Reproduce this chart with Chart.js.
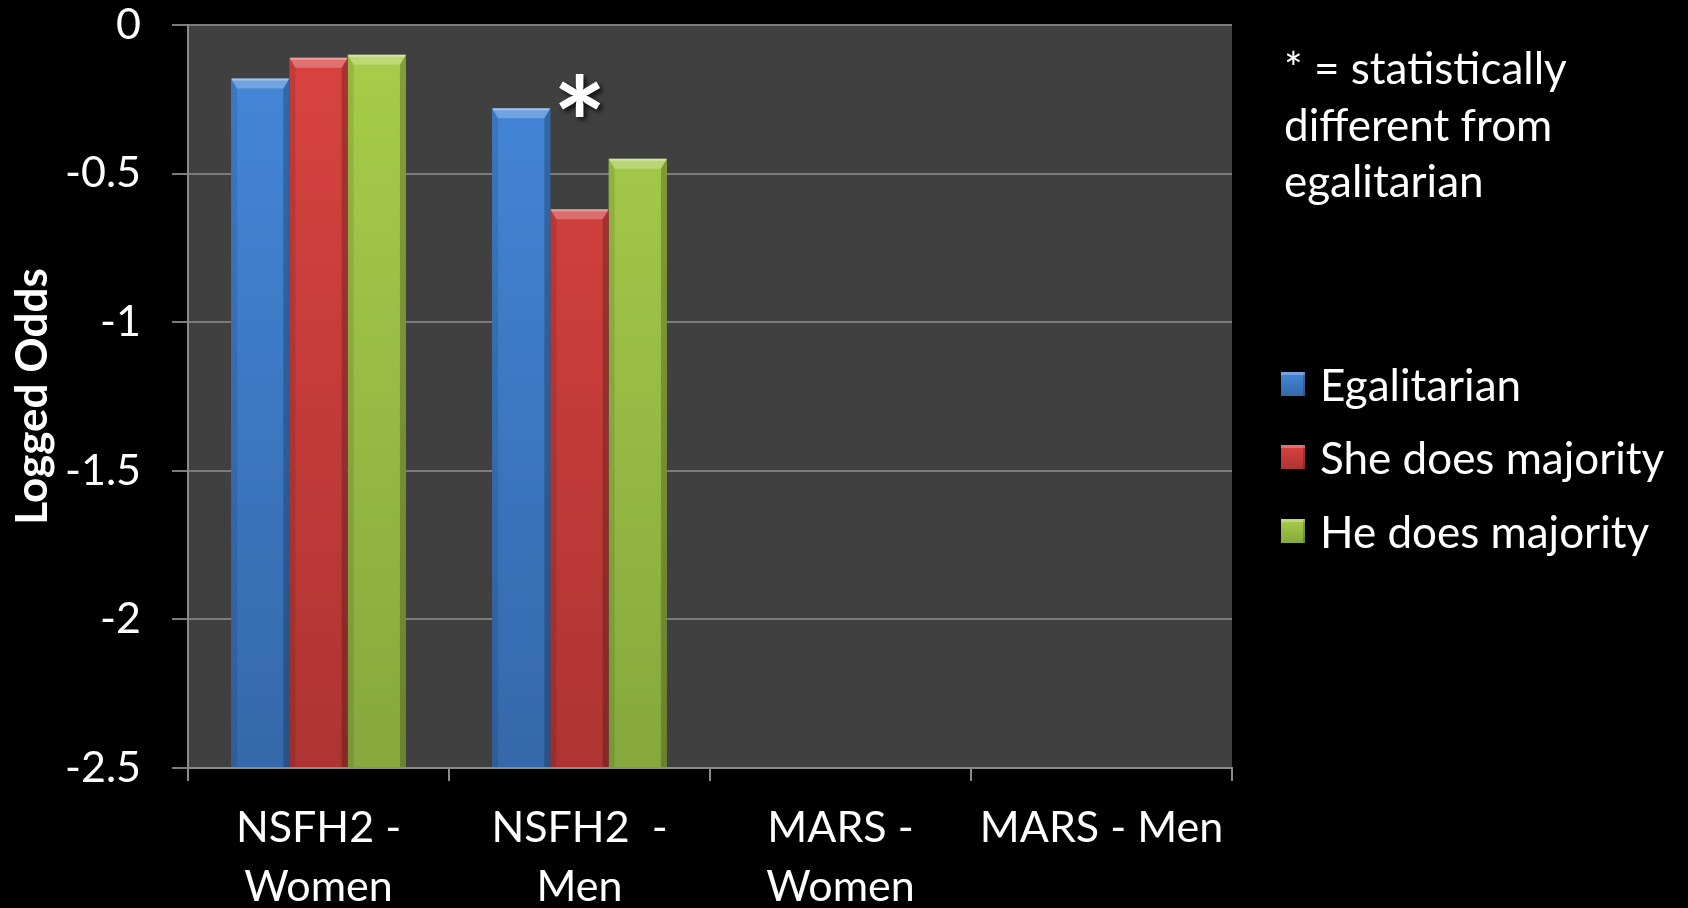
<!DOCTYPE html>
<html>
<head>
<meta charset="utf-8">
<script src="https://cdn.jsdelivr.net/npm/chart.js@4.4.1/dist/chart.umd.min.js"></script>
<style>
  html, body { margin: 0; padding: 0; background: #000; }
  #wrap { position: relative; width: 1688px; height: 908px; overflow: hidden;
          font-family: Lato, "Open Sans", sans-serif; color: #fff; }
  #chart { position: absolute; left: 0; top: 0; }
  #note { position: absolute; left: 1284px; top: 39px; font-size: 44px; line-height: 56.5px; white-space: nowrap; }
  #legend { position: absolute; left: 1281px; top: 347px; font-size: 44px; }
  .item { display: flex; align-items: center; height: 73.5px; white-space: nowrap; }
  .swatch { width: 24px; height: 24px; margin-right: 15px; box-sizing: border-box; flex: none; }
</style>
</head>
<body>
<div id="wrap">
  <canvas id="chart" width="1688" height="908"></canvas>
  <div id="note"></div>
  <div id="legend"></div>
</div>
<script>
// Categories (two-line axis labels)
const categories = [['NSFH2 -', 'Women'], ['NSFH2  -', 'Men'], ['MARS -', 'Women'], 'MARS - Men'];

// Logged odds per division-of-housework arrangement
const seriesNames = ['Egalitarian', 'She does majority', 'He does majority'];
const egalitarian     = [-0.18, -0.28, null, null];
const sheDoesMajority = [-0.11, -0.62, null, null];
const heDoesMajority  = [-0.10, -0.45, null, null];

// Value axis
const yMin = -2.5;
const yMax = 0;
const yStep = 0.5;

// Bars flagged as statistically different from egalitarian
const significant = [{ series: 1, category: 1 }];
const noteLines = ['* = statistically', 'different from', 'egalitarian'];

// Bar face colours: [light top, dark bottom]
const palette = [
  ['#4488da', '#3568aa'],
  ['#da4340', '#ad3432'],
  ['#a8ce4a', '#86a83d']
];

const FONT = 'Lato, "Open Sans", sans-serif';

function faceGradient(idx) {
  return (c) => {
    const chart = c.chart;
    const area = chart.chartArea;
    if (!area) return palette[idx][0];
    const g = chart.ctx.createLinearGradient(0, area.top, 0, area.bottom);
    g.addColorStop(0, palette[idx][0]);
    g.addColorStop(1, palette[idx][1]);
    return g;
  };
}

// dark plot background
const plotBackground = {
  id: 'plotBackground',
  beforeDraw(chart) {
    const { ctx, chartArea: a } = chart;
    ctx.save();
    ctx.fillStyle = '#404040';
    ctx.fillRect(a.left, a.top, a.right - a.left, a.bottom - a.top);
    ctx.restore();
  }
};

// bevelled look on every bar
const bevel = {
  id: 'bevel',
  afterDatasetsDraw(chart) {
    const ctx = chart.ctx;
    chart.data.datasets.forEach((ds, di) => {
      const meta = chart.getDatasetMeta(di);
      meta.data.forEach((bar, i) => {
        if (ds.data[i] == null) return;
        const p = bar.getProps(['x', 'y', 'width', 'base'], true);
        const L = p.x - p.width / 2, R = p.x + p.width / 2;
        const T = Math.min(p.y, p.base), B = Math.max(p.y, p.base);
        const b = 10, s = 6;
        ctx.save();
        // left facet
        ctx.fillStyle = 'rgba(0,0,0,0.10)';
        ctx.beginPath();
        ctx.moveTo(L, T); ctx.lineTo(L + s, T + b); ctx.lineTo(L + s, B); ctx.lineTo(L, B);
        ctx.closePath(); ctx.fill();
        // right facet
        ctx.fillStyle = 'rgba(0,0,0,0.22)';
        ctx.beginPath();
        ctx.moveTo(R, T); ctx.lineTo(R - s, T + b); ctx.lineTo(R - s, B); ctx.lineTo(R, B);
        ctx.closePath(); ctx.fill();
        // top facet
        ctx.fillStyle = 'rgba(255,255,255,0.25)';
        ctx.beginPath();
        ctx.moveTo(L, T); ctx.lineTo(R, T); ctx.lineTo(R - s, T + b); ctx.lineTo(L + s, T + b);
        ctx.closePath(); ctx.fill();
        ctx.fillStyle = 'rgba(255,255,255,0.35)';
        ctx.fillRect(L + 1, T, p.width - 2, 2);
        ctx.restore();
      });
    });
  }
};

// significance asterisks above flagged bars
const sigMarks = {
  id: 'sigMarks',
  afterDatasetsDraw(chart) {
    const ctx = chart.ctx;
    const yScale = chart.scales.y;
    significant.forEach(m => {
      const bar = chart.getDatasetMeta(m.series).data[m.category];
      let top = Infinity;
      chart.data.datasets.forEach(ds => {
        const v = ds.data[m.category];
        if (v != null) top = Math.min(top, yScale.getPixelForValue(v));
      });
      ctx.save();
      ctx.font = 'bold 100px ' + FONT;
      const probe = ctx.measureText('*');
      const h100 = probe.actualBoundingBoxAscent + probe.actualBoundingBoxDescent;
      const size = 100 * 43 / h100;
      ctx.font = 'bold ' + size + 'px ' + FONT;
      const mt = ctx.measureText('*');
      const cy = top - 13;
      ctx.textAlign = 'center';
      ctx.textBaseline = 'alphabetic';
      const baseY = cy + (mt.actualBoundingBoxAscent - mt.actualBoundingBoxDescent) / 2;
      ctx.shadowColor = 'rgba(0,0,0,0.75)';
      ctx.shadowBlur = 5;
      ctx.shadowOffsetX = 3;
      ctx.shadowOffsetY = 3;
      ctx.fillStyle = '#ffffff';
      ctx.fillText('*', bar.x, baseY);
      ctx.restore();
    });
  }
};

Chart.defaults.font.family = FONT;
Chart.defaults.color = '#ffffff';

const seriesData = [egalitarian, sheDoesMajority, heDoesMajority];

new Chart(document.getElementById('chart'), {
  type: 'bar',
  data: {
    labels: categories,
    datasets: seriesData.map((d, i) => ({
      label: seriesNames[i],
      data: d,
      base: yMin,
      backgroundColor: faceGradient(i),
      borderWidth: 0,
      categoryPercentage: 0.67,
      barPercentage: 1.0
    }))
  },
  options: {
    responsive: false,
    devicePixelRatio: 1,
    animation: false,
    layout: { padding: { left: 0, right: 456, top: 25, bottom: 0 } },
    plugins: { legend: { display: false }, tooltip: { enabled: false } },
    scales: {
      x: {
        offset: true,
        grid: { offset: true, drawOnChartArea: false, drawTicks: true, tickLength: 13,
                color: '#8a8a8a', lineWidth: 2 },
        border: { display: true, color: '#8a8a8a', width: 2 },
        ticks: { font: { size: 43, lineHeight: 1.37 }, color: '#fff', padding: 18, maxRotation: 0, autoSkip: false },
        afterFit(scale) { scale.height = 140; scale.paddingLeft = 0; scale.paddingRight = 0; }
      },
      y: {
        min: yMin,
        max: yMax,
        ticks: { stepSize: yStep, font: { size: 43 }, color: '#fff', padding: 31,
                 callback: (v) => String(Math.round(v * 10) / 10) },
        grid: { color: '#7c7c7c', lineWidth: 2, drawTicks: true, tickLength: 16 },
        border: { display: true, color: '#8a8a8a', width: 2 },
        title: { display: true, text: 'Logged Odds', color: '#fff',
                 font: { size: 44, weight: 'bold', lineHeight: 1.2 }, padding: { top: 6, bottom: 0 } },
        afterFit(scale) { scale.width = 188; scale.paddingTop = 0; scale.paddingBottom = 0; }
      }
    }
  },
  plugins: [plotBackground, bevel, sigMarks]
});

// note and legend text
document.getElementById('note').innerHTML = noteLines.join('<br>');
const legend = document.getElementById('legend');
seriesNames.forEach((name, i) => {
  const item = document.createElement('div');
  item.className = 'item';
  const sw = document.createElement('span');
  sw.className = 'swatch';
  sw.style.background = 'linear-gradient(' + palette[i][0] + ',' + palette[i][1] + ')';
  sw.style.boxShadow = 'inset 0 3px 0 rgba(255,255,255,0.25), inset -2px 0 0 rgba(0,0,0,0.2)';
  const tx = document.createElement('span');
  tx.textContent = name;
  item.appendChild(sw);
  item.appendChild(tx);
  legend.appendChild(item);
});
</script>
</body>
</html>
